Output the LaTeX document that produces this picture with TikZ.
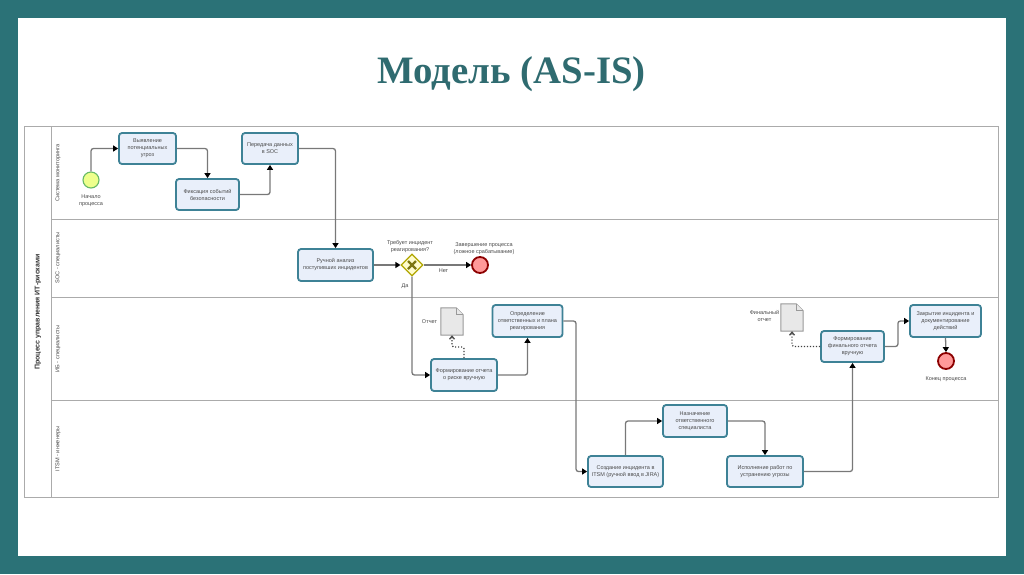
\documentclass[tikz,border=0pt]{standalone}
\usepackage{fontspec}
\setmainfont{Liberation Sans}
\newfontfamily\titlefont{Liberation Serif}
\usetikzlibrary{shapes.geometric,arrows.meta,calc}
\definecolor{teal1}{HTML}{2B7277}
\definecolor{titlec}{HTML}{2F6B70}
\definecolor{boxb}{HTML}{3E8296}
\definecolor{boxf}{HTML}{E9EFFA}
\definecolor{lineg}{HTML}{787878}
\definecolor{poolg}{HTML}{ABABAB}
\definecolor{txt}{HTML}{4A4A4A}
\tikzset{
  task/.style={draw=boxb,fill=boxf,line width=1.8pt,rounded corners=3pt,inner sep=0pt,align=center,font=\fontsize{5.5}{7}\selectfont,text=txt},
  lbl/.style={inner sep=0pt,align=center,font=\fontsize{5.5}{7}\selectfont,text=txt},
  lanelbl/.style={inner sep=0pt,rotate=90,font=\fontsize{5.6}{6}\selectfont,text=txt},
  flow/.style={draw=lineg,line width=1.3pt,rounded corners=2.5pt,-{Triangle[length=5pt,width=6pt,black]}},
  assoc/.style={draw=black!75,line width=1.3pt,dash pattern=on 1.2pt off 1.8pt,rounded corners=1.5pt,-{Straight Barb[length=3pt,width=5pt,black!70]}},
  evstart/.style={circle,draw=black!45!green!60!white,fill=green!15!yellow!45!white,line width=1.1pt,minimum size=16pt,inner sep=0pt},
  evend/.style={circle,draw=red!55!black,fill=red!40!white,line width=1.8pt,minimum size=16pt,inner sep=0pt},
  gate/.style={diamond,draw=olive!70!yellow,fill=yellow!20!white,line width=1.2pt,minimum width=22pt,minimum height=22pt,inner sep=0pt},
  docbox/.style={inner sep=0pt,minimum width=22pt,minimum height=27pt},
  docline/.style={draw=black!40,fill=black!9,line width=1pt},
  pool/.style={draw=poolg,line width=1pt}
}
\newcommand{\docpath}[1]{%
  \path[docline] (#1.north west) -- ($(#1.north east)+(-7,0)$) -- ($(#1.north east)+(0,7)$) -- (#1.south east) -- (#1.south west) -- cycle;
  \path[docline] ($(#1.north east)+(-7,0)$) -- ($(#1.north east)+(-7,7)$) -- ($(#1.north east)+(0,7)$);
}
\begin{document}
\begin{tikzpicture}[x=1pt,y=-1pt]
\useasboundingbox (0,0) rectangle (1024,574);
\fill[teal1] (0,0) rectangle (1024,574);
\fill[white] (18,18) rectangle (1006,556);
\node[inner sep=0pt,text=titlec,font=\titlefont\bfseries\fontsize{38.8}{42}\selectfont] (title) at (511.5,74) {Модель (AS-IS)};

% pool
\draw[pool] (24,126) rectangle (998,497);
\draw[pool] (51,126) -- (51,497);
\draw[pool] (51,219) -- (998,219);
\draw[pool] (51,297) -- (998,297);
\draw[pool] (51,400) -- (998,400);
\node[inner sep=0pt,rotate=90,font=\bfseries\fontsize{7}{8}\selectfont,text=black!80] (pn) at (38,312) {Процесс управления ИТ-рисками};
\node[lanelbl] (l1) at (58,173) {Система мониторинга};
\node[lanelbl] (l2) at (58,258) {SOC - специалисты};
\node[lanelbl] (l3) at (58,349) {ИБ - специалисты};
\node[lanelbl] (l4) at (58,449) {ITSM - инженеры};

% tasks
\node[task,minimum width=57pt,minimum height=31pt] (a) at (147.5,148.5) {Выявление\\потенциальных\\угроз};
\node[task,minimum width=63pt,minimum height=31pt] (b) at (207.5,194.5) {Фиксация событий\\безопасности};
\node[task,minimum width=56pt,minimum height=31pt] (c) at (270,148.5) {Передача данных\\в SOC};
\node[task,minimum width=75pt,minimum height=32pt] (d) at (335.5,265) {Ручной анализ\\поступивших инцидентов};
\node[task,minimum width=66pt,minimum height=32pt] (e) at (464,375) {Формирование отчета\\о риске вручную};
\node[task,minimum width=70pt,minimum height=32pt] (f) at (527.5,321) {Определение\\ответственных и плана\\реагирования};
\node[task,minimum width=75pt,minimum height=31pt] (g) at (625.5,471.5) {Создание инцидента в\\ITSM (ручной ввод в JIRA)};
\node[task,minimum width=64pt,minimum height=32pt] (h) at (695,421) {Назначение\\ответственного\\специалиста};
\node[task,minimum width=76pt,minimum height=31pt] (i) at (765,471.5) {Исполнение работ по\\устранению угрозы};
\node[task,minimum width=63pt,minimum height=31pt] (j) at (852.5,346.5) {Формирование\\финального отчета\\вручную};
\node[task,minimum width=71pt,minimum height=32pt] (k) at (945.5,321) {Закрытие инцидента и\\документирование\\действий};

% events
\node[evstart] (s) at (91,180) {};
\node[lbl] (sl) at (91,201) {Начало\\процесса};
\node[gate] (gw) at (412,265) {};
\draw[draw=olive!85!black,line width=2.4pt] ($(gw.center)+(-4,-4)$) -- ($(gw.center)+(4,4)$);
\draw[draw=olive!85!black,line width=2.4pt] ($(gw.center)+(-4,4)$) -- ($(gw.center)+(4,-4)$);
\node[lbl] (gl) at (410,246.5) {Требует инцидент\\реагирования?};
\node[evend] (e1) at (480,265) {};
\node[lbl] (e1l) at (484,248.5) {Завершение процесса\\(ложное срабатывание)};
\node[evend] (e2) at (946,361) {};
\node[lbl] (e2l) at (946,379) {Конец процесса};
\node[lbl] (no) at (443.5,271) {Нет};
\node[lbl] (yes) at (405,286) {Да};

% documents
\node[docbox] (d1) at (452,321.5) {};
\docpath{d1}
\node[lbl] (d1l) at (429.5,322) {Отчет};
\node[docbox] (d2) at (792,317.5) {};
\docpath{d2}
\node[lbl] (d2l) at (764.5,316) {Финальный\\отчет};

% flows
\draw[flow] (s.north) |- (a.west);
\draw[flow] (a.east) -| (b.north);
\draw[flow] (b.east) -| (c.south);
\draw[flow] (c.east) -| (d.north);
\draw[flow] (d.east) -- (gw.west);
\draw[flow] (gw.east) -- (e1.west);
\draw[flow] (gw.south) |- (e.west);
\draw[flow] (e.east) -| (f.south);
\coordinate (fg) at (576,321);
\draw[flow] (f.east) -- (fg) |- (g.west);
\draw[flow] (g.north) |- (h.west);
\draw[flow] (h.east) -| (i.north);
\draw[flow] (i.east) -| (j.south);
\draw[flow] (j.east) -- ++(13,0) |- (k.west);
\draw[flow] (k.south) -- (e2.north);

% associations
\coordinate (e_d) at (464,347);
\draw[assoc] (e.north) -- (e_d) -| (d1.south);
\draw[assoc] (j.west) -| (d2.south);
\end{tikzpicture}
\end{document}
